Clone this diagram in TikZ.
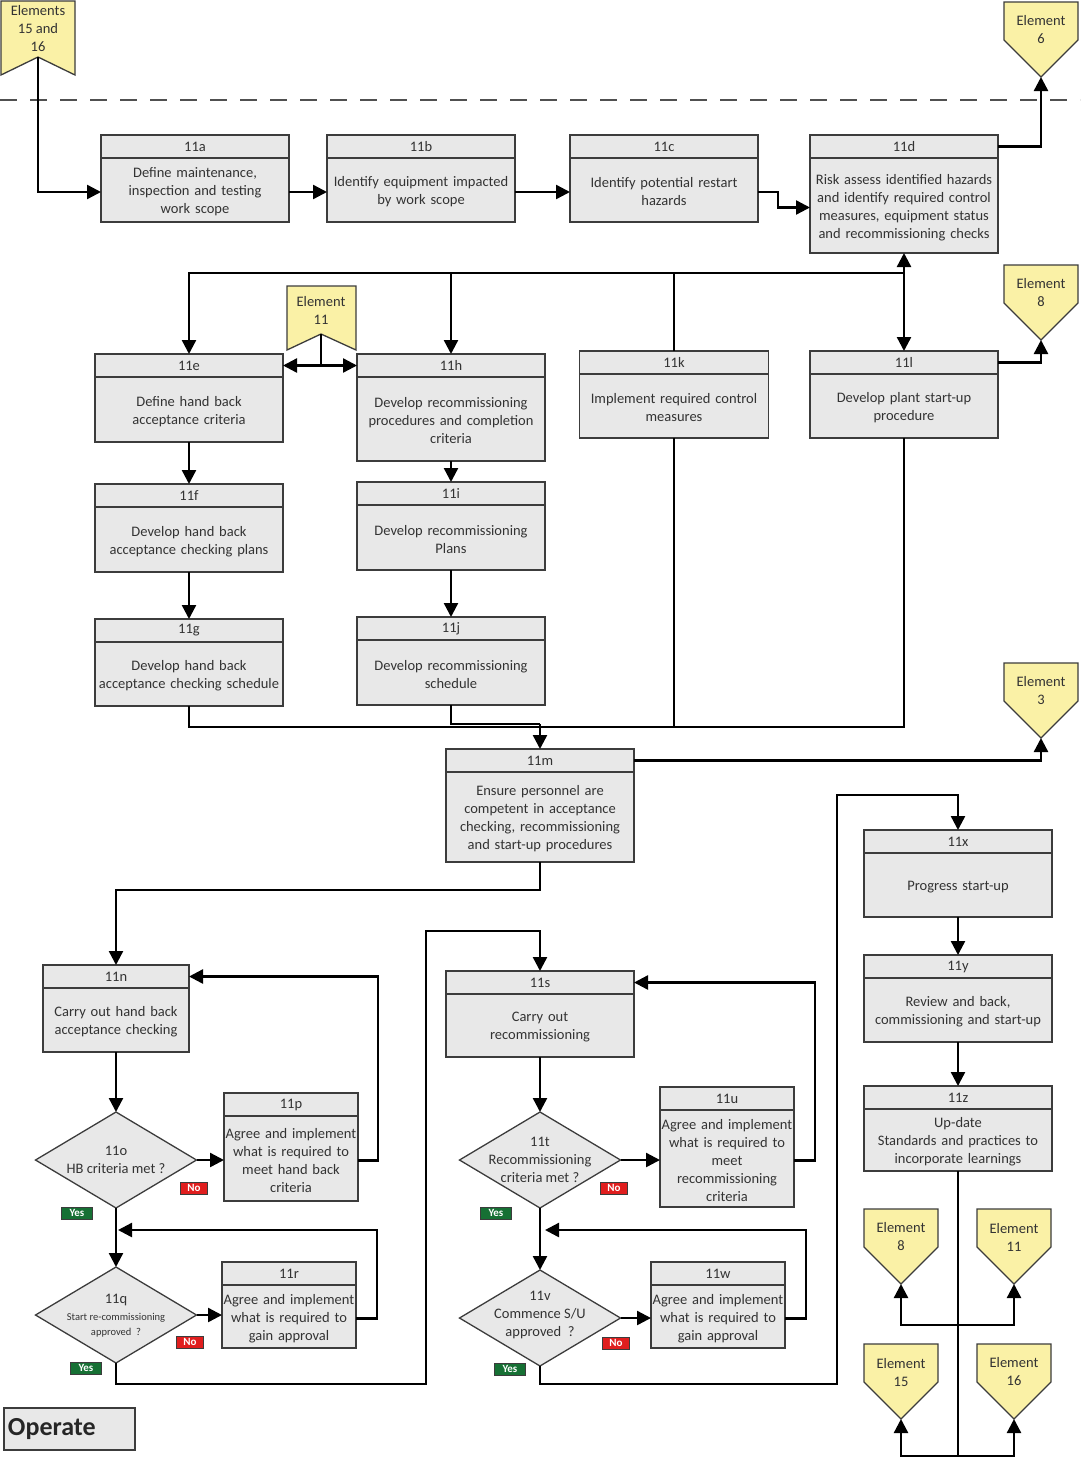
\documentclass[tikz,border=0pt]{standalone}
\usepackage{fontspec}
\setmainfont{Carlito}
\usetikzlibrary{arrows.meta,shapes.geometric}

\definecolor{boxgray}{RGB}{232,232,232}
\definecolor{edgegray}{RGB}{60,60,60}
\definecolor{flagyellow}{RGB}{250,241,166}
\definecolor{yesgreen}{RGB}{22,112,52}
\definecolor{nored}{RGB}{224,30,30}

% process box: name, centre x, top y, width, height, number, text
\newcommand\procbox[7]{%
  \pgfmathsetmacro\procw{#4-2}%
  \node[boxfill, minimum width=#4, minimum height=#5, anchor=north] (#1) at (#2,#3) {};
  \node[boxhead, minimum width=#4, anchor=north] (#1-h) at (#1.north) {#6};
  \node[boxtext, text width=\procw pt, minimum height=#5-23, anchor=south] (#1-b) at ([yshift=-2pt]#1.south) {#7};
}

\begin{document}
\begin{tikzpicture}[x=1pt,y=-1pt,
  boxfill/.style={draw=edgegray,fill=boxgray,line width=1.3pt,inner sep=0pt,outer sep=0pt},
  boxhead/.style={draw=edgegray,line width=1.3pt,minimum height=23pt,inner sep=0pt,outer sep=0pt,
    font=\fontsize{14.5}{18}\selectfont,text=black!80},
  boxtext/.style={inner xsep=1pt,inner ysep=0pt,outer sep=0pt,align=center,
    font=\fontsize{14.5}{18}\selectfont,text=black!80},
  decide/.style={diamond,draw=edgegray,fill=boxgray,line width=1.3pt,
    minimum width=161pt,minimum height=96pt,inner sep=0pt,outer sep=0pt},
  dtext/.style={align=center,inner sep=0pt,font=\fontsize{14.5}{18}\selectfont,text=black!80},
  flag/.style={draw=edgegray,fill=flagyellow,line width=1.3pt},
  flagtext/.style={align=center,inner sep=0pt,font=\fontsize{14.5}{18}\selectfont,text=black!80},
  yestag/.style={fill=yesgreen,draw=edgegray,line width=.4pt,text=white,inner xsep=8pt,inner ysep=2.5pt,
    font=\fontsize{11}{11}\selectfont\bfseries},
  notag/.style={yestag,fill=nored,inner xsep=7pt},
  conn/.style={line width=2.4pt,black},
  arr/.style={conn,-{Triangle[length=14pt,width=14pt]}},
  darr/.style={conn,{Triangle[length=14pt,width=14pt]}-{Triangle[length=14pt,width=14pt]}}]

\useasboundingbox (0,0) rectangle (1080,1459);

\draw[edgegray!90,line width=1.5pt,dash pattern=on 17pt off 13pt] (0,100) -- (1080,100);

% flags
\draw[flag] (1,1) -- (75,1) -- (75,75) -- (38,57) -- (1,75) -- cycle;
\node[flagtext] (e1516-t) at (38,29) {Elements\\15 and\\16};
\coordinate (e1516) at (38,57);
\draw[flag] (287,286) -- (356,286) -- (356,350) -- (321,334) -- (287,350) -- cycle;
\node[flagtext] (e11a-t) at (321,310) {Element\\11};
\coordinate (e11a) at (321,334);
\foreach \nm/\cx/\top/\txt in {e6/1041/2/6, e8a/1041/265/8, e3/1041/663/3,
    e8b/901/1209/8, e11b/1014/1209/11, e15/901/1344/15, e16/1014/1344/16}{
  \draw[flag] (\cx-37,\top) -- (\cx+37,\top) -- (\cx+37,\top+38) -- (\cx,\top+75) -- (\cx-37,\top+38) -- cycle;
  \node[flagtext] (\nm-t) at (\cx,\top+28) {Element\\\txt};
  \coordinate (\nm) at (\cx,\top+75);
}

% process boxes
\procbox{p11a}{195}{135}{188}{87}{11a}{Define maintenance,\\inspection and testing\\work scope}
\procbox{p11b}{421}{135}{188}{87}{11b}{Identify equipment impacted\\by work scope}
\procbox{p11c}{664}{135}{188}{87}{11c}{Identify potential restart\\hazards}
\procbox{p11d}{904}{135}{188}{118}{11d}{Risk assess identified hazards\\and identify required control\\measures, equipment status\\and recommissioning checks}
\procbox{p11e}{189}{354}{188}{88}{11e}{Define hand back\\acceptance criteria}
\procbox{p11h}{451}{354}{188}{107}{11h}{Develop recommissioning\\procedures and completion\\criteria}
\procbox{p11k}{674}{351}{189}{87}{11k}{Implement required control\\measures}
\procbox{p11l}{904}{351}{188}{87}{11l}{Develop plant start-up\\procedure}
\procbox{p11f}{189}{484}{188}{88}{11f}{Develop hand back\\acceptance checking plans}
\procbox{p11i}{451}{482}{188}{88}{11i}{Develop recommissioning\\Plans}
\procbox{p11g}{189}{619}{188}{87}{11g}{Develop hand back\\acceptance checking schedule}
\procbox{p11j}{451}{617}{188}{88}{11j}{Develop recommissioning\\schedule}
\procbox{p11m}{540}{749}{188}{113}{11m}{Ensure personnel are\\competent in acceptance\\checking, recommissioning\\and start-up procedures}
\procbox{p11x}{958}{830}{188}{87}{11x}{Progress start-up}
\procbox{p11y}{958}{955}{188}{87}{11y}{Review and back,\\commissioning and start-up}
\procbox{p11z}{958}{1086}{188}{85}{11z}{Up-date\\Standards and practices to\\incorporate learnings}
\procbox{p11n}{116}{965}{146}{87}{11n}{Carry out hand back\\acceptance checking}
\procbox{p11s}{540}{971}{188}{86}{11s}{Carry out\\recommissioning}
\procbox{p11p}{291}{1093}{134}{108}{11p}{Agree and implement\\what is required to\\meet hand back\\criteria}
\procbox{p11u}{727}{1087}{134}{120}{11u}{Agree and implement\\what is required to\\meet\\recommissioning\\criteria}
\procbox{p11r}{289}{1262}{134}{86}{11r}{Agree and implement\\what is required to\\gain approval}
\procbox{p11w}{718}{1262}{134}{86}{11w}{Agree and implement\\what is required to\\gain approval}

% decisions
\node[decide] (p11o) at (116,1160) {};
\node[dtext] (p11o-t) at (p11o) {11o\\HB criteria met ?};
\node[decide] (p11q) at (116,1315) {};
\node[dtext] (p11q-t) at (116,1316) {11q\\[-1pt]{\fontsize{10.5}{12}\selectfont Start re-commissioning}\\[-3pt]{\fontsize{10.5}{12}\selectfont approved~~?}};
\node[decide] (p11t) at (540,1160) {};
\node[dtext] (p11t-t) at (p11t) {11t\\Recommissioning\\criteria met ?};
\node[decide] (p11v) at (540,1318) {};
\node[dtext] (p11v-t) at (540,1315) {11v\\Commence S/U\\approved~~?};

\node[yestag] (yes-o) at (77,1213) {Yes};
\node[notag] (no-o) at (194,1188) {No};
\node[yestag] (yes-q) at (86,1368) {Yes};
\node[notag] (no-q) at (190,1342) {No};
\node[yestag] (yes-t) at (496,1213) {Yes};
\node[notag] (no-t) at (614,1188) {No};
\node[yestag] (yes-v) at (510,1369) {Yes};
\node[notag] (no-v) at (616,1343) {No};

\node[boxfill,anchor=north west,minimum width=131,minimum height=42,text width=123pt,inner xsep=4pt,
  align=left,font=\fontsize{26}{28}\selectfont\bfseries,text=black!85] (operate) at (4,1408) {Operate};

% connectors, top row
\draw[arr] (e1516) |- (p11a-b.west);
\draw[arr] (p11a-b) -- (p11b-b);
\draw[arr] (p11b-b) -- (p11c-b);
\draw[arr] (p11c-b.east) -- ++(20,0) |- (p11d-b.west);
\draw[arr] (p11d-h.east) -| (e6);

% bus under 11d
\coordinate (bus) at (904,273);
\draw[arr] (bus) -| (p11e.north);
\draw[arr] (p11h.north |- bus) -- (p11h.north);
\draw[conn] (p11k.north) -- (p11k.north |- bus);
\draw[darr] (p11d.south) -- (p11l.north);
\draw[conn] (e11a) -- (e11a |- p11e-h.east);
\draw[arr] (e11a |- p11e-h.east) -- (p11e-h.east);
\draw[arr] (e11a |- p11h-h.west) -- (p11h-h.west);
\draw[arr] (p11l-h.east) -| (e8a);

\draw[arr] (p11e) -- (p11f);
\draw[arr] (p11f) -- (p11g);
\draw[arr] (p11h) -- (p11i);
\draw[arr] (p11i) -- (p11j);

% merge into 11m
\coordinate (mj) at (540,724);
\coordinate (mk) at (540,727);
\draw[conn] (p11g.south) |- (mk);
\draw[conn] (p11j.south) |- (mj);
\draw[conn] (p11k.south) |- (mk);
\draw[conn] (p11l.south) |- (mk);
\draw[arr] (mj) -- (p11m.north);
\draw[arr] (p11m-h.east) -| (e3);
\draw[arr] (p11m.south) -- ++(0,28) -| (p11n.north);

% hand back loop
\draw[arr] (p11n) -- (p11o);
\draw[arr] (p11o.east) -- (p11o.east -| p11p.west);
\draw[arr] (p11p-b.east) -- ++(20,0) |- (p11n-h.east);
\draw[arr] (p11o) -- (p11q);
\draw[arr] (p11q.east) -- (p11q.east -| p11r.west);
\coordinate (jq) at (118,1230);
\draw[arr] (p11r-b.east) -- ++(21,0) |- (jq);
\coordinate (up1) at (426,1384);
\coordinate (up2) at (426,931);
\draw[arr] (p11q.south) |- (up1) -- (up2) -| (p11s.north);

% recommissioning loop
\draw[arr] (p11s) -- (p11t);
\draw[arr] (p11t.east) -- (p11t.east -| p11u.west);
\draw[arr] (p11u-b.east) -- ++(21,0) |- (p11s-h.east);
\draw[arr] (p11t) -- (p11v);
\draw[arr] (p11v.east) -- (p11v.east -| p11w.west);
\coordinate (jv) at (545,1230);
\draw[arr] (p11w-b.east) -- ++(21,0) |- (jv);
\coordinate (up3) at (837,1384);
\coordinate (up4) at (837,795);
\draw[arr] (p11v.south) |- (up3) -- (up4) -| (p11x.north);

% start-up column
\draw[arr] (p11x) -- (p11y);
\draw[arr] (p11y) -- (p11z);
\coordinate (jz1) at (958,1325);
\coordinate (jz2) at (958,1456);
\draw[conn] (p11z.south) -- (jz2);
\draw[arr] (jz1) -| (e8b);
\draw[arr] (jz1) -| (e11b);
\draw[arr] (jz2) -| (e15);
\draw[arr] (jz2) -| (e16);
\end{tikzpicture}
\end{document}
